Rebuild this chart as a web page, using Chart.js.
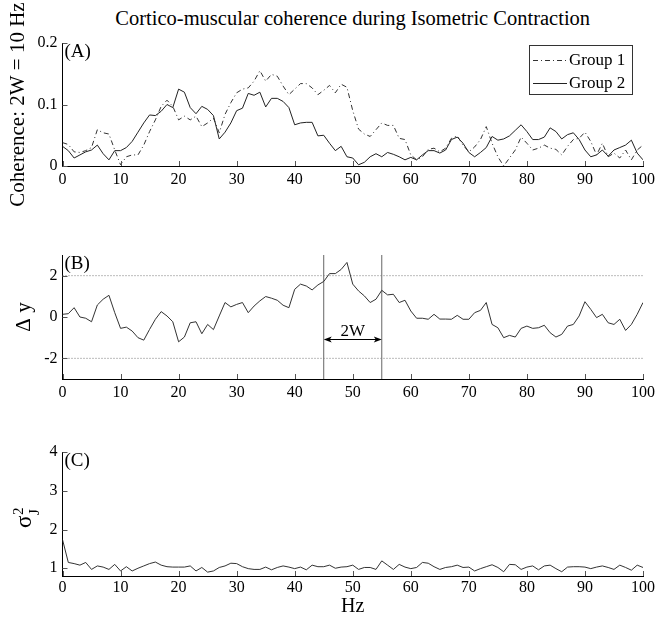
<!DOCTYPE html>
<html>
<head>
<meta charset="utf-8">
<script src="https://cdn.jsdelivr.net/npm/chart.js@4.4.1/dist/chart.umd.min.js"></script>
<style>
    body { margin: 0; background: #fff; }
    #wrap { position: relative; width: 667px; height: 623px; overflow: hidden; }
    #title {
        position: absolute; left: 62.5px; width: 580.5px; top: 6px;
        text-align: center; font: 20.5px/24px 'Liberation Serif', 'Times New Roman', serif; color: #000;
        white-space: nowrap;
    }
    canvas { position: absolute; left: 0; }
</style>
</head>
<body>
<div id="wrap">
    <div id="title">Cortico-muscular coherence during Isometric Contraction</div>
    <canvas id="chart-a" width="667" height="215" style="top:0px;width:667px;height:215px"></canvas>
    <canvas id="chart-b" width="667" height="195" style="top:215px;width:667px;height:195px"></canvas>
    <canvas id="chart-c" width="667" height="213" style="top:410px;width:667px;height:213px"></canvas>
</div>
<script>
// Frequency axis (Hz)
const freqs = [0, 1, 2, 3, 4, 5, 6, 7, 8, 9, 10, 11, 12, 13, 14, 15, 16, 17, 18, 19, 20,
    21, 22, 23, 24, 25, 26, 27, 28, 29, 30, 31, 32, 33, 34, 35, 36, 37, 38, 39, 40,
    41, 42, 43, 44, 45, 46, 47, 48, 49, 50, 51, 52, 53, 54, 55, 56, 57, 58, 59, 60,
    61, 62, 63, 64, 65, 66, 67, 68, 69, 70, 71, 72, 73, 74, 75, 76, 77, 78, 79, 80,
    81, 82, 83, 84, 85, 86, 87, 88, 89, 90, 91, 92, 93, 94, 95, 96, 97, 98, 99, 100];

// (A) coherence, Group 1 (dash-dot)
const group1 = [0.038, 0.035, 0.023, 0.022, 0.025, 0.030, 0.059, 0.054, 0.052, 0.026, 0.002,
    0.015, 0.018, 0.018, 0.034, 0.056, 0.075, 0.097, 0.107, 0.097, 0.075,
    0.081, 0.075, 0.081, 0.064, 0.070, 0.078, 0.054, 0.084, 0.103, 0.119,
    0.125, 0.127, 0.138, 0.155, 0.138, 0.149, 0.146, 0.130, 0.116, 0.125,
    0.134, 0.134, 0.127, 0.116, 0.123, 0.131, 0.119, 0.133, 0.128, 0.090,
    0.060, 0.052, 0.048, 0.059, 0.070, 0.066, 0.066, 0.045, 0.043, 0.018,
    0.010, 0.015, 0.027, 0.029, 0.023, 0.029, 0.045, 0.049, 0.034, 0.023,
    0.031, 0.043, 0.064, 0.037, 0.015, 0.000, 0.013, 0.026, 0.047, 0.037,
    0.026, 0.029, 0.034, 0.029, 0.027, 0.018, 0.032, 0.043, 0.045, 0.055,
    0.040, 0.018, 0.037, 0.015, 0.021, 0.013, 0.026, 0.010, 0.026, 0.034];

// (A) coherence, Group 2 (solid)
const group2 = [0.032, 0.025, 0.013, 0.018, 0.023, 0.026, 0.034, 0.020, 0.010, 0.025, 0.025,
    0.030, 0.040, 0.055, 0.070, 0.083, 0.082, 0.089, 0.100, 0.095, 0.125,
    0.120, 0.095, 0.085, 0.097, 0.092, 0.082, 0.044, 0.055, 0.070, 0.090,
    0.094, 0.118, 0.115, 0.120, 0.096, 0.110, 0.110, 0.105, 0.095, 0.067,
    0.070, 0.071, 0.071, 0.049, 0.050, 0.037, 0.025, 0.032, 0.015, 0.013,
    0.002, 0.006, 0.015, 0.020, 0.015, 0.022, 0.019, 0.015, 0.010, 0.014,
    0.010, 0.018, 0.025, 0.025, 0.021, 0.026, 0.043, 0.047, 0.037, 0.022,
    0.015, 0.022, 0.030, 0.048, 0.042, 0.044, 0.049, 0.058, 0.067, 0.056,
    0.043, 0.043, 0.047, 0.062, 0.056, 0.044, 0.051, 0.054, 0.043, 0.026,
    0.015, 0.018, 0.026, 0.016, 0.026, 0.030, 0.034, 0.042, 0.021, 0.010];

// (B) standardised difference
const deltaY = [0.13, 0.16, 0.45, 0.00, -0.06, -0.23, 0.58, 0.86, 1.05, 0.21, -0.55,
    -0.49, -0.68, -1.00, -1.12, -0.60, -0.11, 0.26, 0.05, -0.23, -1.20,
    -0.97, -0.28, -0.23, -0.81, -0.36, -0.61, 0.05, 0.70, 0.49, 0.61,
    0.70, 0.21, 0.53, 0.78, 0.99, 0.91, 0.81, 0.57, 0.45, 1.34,
    1.59, 1.50, 1.31, 1.55, 1.72, 2.10, 2.10, 2.30, 2.64, 1.59,
    1.26, 1.02, 0.70, 0.86, 1.29, 1.07, 1.10, 0.70, 0.81, 0.29,
    -0.06, -0.06, -0.11, 0.13, -0.10, -0.10, -0.11, 0.08, -0.11, -0.11,
    0.21, 0.32, 0.70, -0.36, -0.52, -1.00, -0.89, -0.97, -0.55, -0.44,
    -0.55, -0.52, -0.40, -0.76, -0.97, -0.84, -0.44, -0.36, 0.05, 0.74,
    0.37, -0.03, 0.13, -0.28, -0.36, -0.11, -0.65, -0.36, 0.13, 0.70];

// (C) jackknife variance
const sigmaJ = [1.74, 1.15, 1.12, 1.08, 1.15, 0.97, 1.06, 1.03, 0.97, 1.10, 0.93,
    1.04, 0.93, 1.00, 1.06, 1.12, 1.16, 1.08, 1.04, 1.03, 1.03,
    1.03, 1.06, 0.93, 1.02, 0.90, 0.93, 1.02, 1.06, 1.13, 1.12,
    1.04, 0.99, 0.97, 0.97, 1.03, 0.96, 1.02, 1.06, 1.03, 0.99,
    1.03, 0.96, 1.08, 1.04, 1.04, 1.08, 1.00, 1.03, 1.04, 1.08,
    0.97, 1.02, 1.02, 0.97, 1.19, 1.08, 0.97, 1.10, 1.03, 0.99,
    1.02, 1.15, 1.13, 1.04, 0.97, 1.02, 1.04, 1.08, 1.02, 1.03,
    0.93, 0.99, 1.04, 1.09, 1.02, 0.91, 1.10, 1.09, 0.97, 1.03,
    1.06, 0.96, 1.06, 1.08, 0.99, 0.91, 1.03, 1.04, 1.04, 1.03,
    0.99, 1.03, 1.06, 1.02, 0.97, 1.08, 1.02, 0.95, 1.08, 1.02];

// Ticks and reference values
const xTicks = [0, 10, 20, 30, 40, 50, 60, 70, 80, 90, 100];
const ticksA = [0, 0.1, 0.2];
const ticksB = [-2, 0, 2];
const ticksC = [1, 2, 3, 4];
const thresholds = [2, -2];
const band = [45, 55];

// Annotation positions (value units)
const arrowLevel = -1.08;
const bandTextLevel = -0.68;

const serif = "'Liberation Serif', 'Times New Roman', serif";
const toPoints = (values) => values.map((v, i) => ({ x: freqs[i], y: v }));

const xAxis = (height, tickPad, title) => ({
    type: 'linear',
    min: 0,
    max: 100,
    afterBuildTicks: (s) => { s.ticks = xTicks.map(v => ({ value: v })); },
    afterFit: (s) => { s.height = height; },
    grid: { display: false, drawTicks: false },
    border: { display: true, color: '#000', width: 1 },
    ticks: { autoSkip: false, maxRotation: 0, padding: tickPad, color: '#000', font: { family: serif, size: 16 } },
    title: title
        ? { display: true, text: title, color: '#000', font: { family: serif, size: 20 }, padding: { top: 0, bottom: 4 } }
        : { display: false }
});

const yAxis = (min, max, ticks, title, titlePad) => ({
    type: 'linear',
    min: min,
    max: max,
    afterBuildTicks: (s) => { s.ticks = ticks.map(v => ({ value: v })); },
    afterFit: (s) => { s.width = 62.5; },
    grid: { display: false, drawTicks: false },
    border: { display: true, color: '#000', width: 1 },
    ticks: { padding: 5, color: '#000', font: { family: serif, size: 16 }, callback: (v) => String(v) },
    title: title
        ? { display: true, text: title, color: '#000', font: { family: serif, size: 21 }, padding: { top: titlePad, bottom: 0 } }
        : { display: false }
});

// MATLAB-like ticks pointing into the axes, plus the panel tag
const innerTicks = {
    id: 'innerTicks',
    afterDraw(chart, args, opts) {
        const { ctx, chartArea, scales: { x, y } } = chart;
        ctx.save();
        ctx.strokeStyle = '#555';
        ctx.lineWidth = 1;
        ctx.beginPath();
        x.ticks.forEach(t => {
            const px = Math.round(x.getPixelForValue(t.value)) + 0.5;
            ctx.moveTo(px, chartArea.bottom);
            ctx.lineTo(px, chartArea.bottom - 5);
        });
        y.ticks.forEach(t => {
            const py = Math.round(y.getPixelForValue(t.value)) + 0.5;
            ctx.moveTo(chartArea.left, py);
            ctx.lineTo(chartArea.left + 5, py);
        });
        ctx.stroke();
        if (opts.tag) {
            ctx.fillStyle = '#000';
            ctx.font = `19px ${serif}`;
            ctx.textBaseline = 'middle';
            ctx.textAlign = 'left';
            ctx.fillText(opts.tag, chartArea.left + 2, chartArea.top + 9.5);
        }
        ctx.restore();
    }
};

// Boxed legend in the top right corner of panel A
const boxLegend = {
    id: 'boxLegend',
    afterDraw(chart) {
        const { ctx, chartArea } = chart;
        const right = chartArea.right - 11;
        const left = right - 103;
        const top = chartArea.top + 2;
        ctx.save();
        ctx.strokeStyle = '#333';
        ctx.lineWidth = 1;
        ctx.strokeRect(Math.round(left) + 0.5, Math.round(top) + 0.5, 103, 49);
        ctx.font = `17px ${serif}`;
        ctx.textBaseline = 'middle';
        ctx.fillStyle = '#000';
        chart.data.datasets.forEach((ds, i) => {
            const rowY = Math.round(top + 14.5 + i * 23) + 0.5;
            ctx.setLineDash(ds.borderDash || []);
            ctx.strokeStyle = ds.borderColor;
            ctx.beginPath();
            ctx.moveTo(left + 4, rowY);
            ctx.lineTo(left + 38, rowY);
            ctx.stroke();
            ctx.fillText(ds.label, left + 40, rowY);
        });
        ctx.restore();
    }
};

// Double arrow marking the 2W band in panel B
const bandArrow = {
    id: 'bandArrow',
    afterDatasetsDraw(chart) {
        const { ctx, scales: { x, y } } = chart;
        const x0 = x.getPixelForValue(band[0]);
        const x1 = x.getPixelForValue(band[1]);
        const py = Math.round(y.getPixelForValue(arrowLevel)) + 0.5;
        ctx.save();
        ctx.strokeStyle = '#000';
        ctx.fillStyle = '#000';
        ctx.lineWidth = 1;
        ctx.beginPath();
        ctx.moveTo(x0 + 2, py);
        ctx.lineTo(x1 - 2, py);
        ctx.stroke();
        ctx.beginPath();
        ctx.moveTo(x0, py); ctx.lineTo(x0 + 8, py - 3); ctx.lineTo(x0 + 6, py); ctx.lineTo(x0 + 8, py + 3); ctx.closePath();
        ctx.moveTo(x1, py); ctx.lineTo(x1 - 8, py - 3); ctx.lineTo(x1 - 6, py); ctx.lineTo(x1 - 8, py + 3); ctx.closePath();
        ctx.fill();
        ctx.font = `17px ${serif}`;
        ctx.textAlign = 'center';
        ctx.textBaseline = 'middle';
        ctx.fillText('2W', x.getPixelForValue((band[0] + band[1]) / 2), y.getPixelForValue(bandTextLevel));
        ctx.restore();
    }
};

// sigma_J^2 label of panel C
const sigmaLabel = {
    id: 'sigmaLabel',
    afterDraw(chart) {
        const { ctx, chartArea } = chart;
        const cy = (chartArea.top + chartArea.bottom) / 2;
        ctx.save();
        ctx.translate(31, cy + 2);
        ctx.rotate(-Math.PI / 2);
        ctx.fillStyle = '#000';
        ctx.textBaseline = 'alphabetic';
        ctx.textAlign = 'left';
        ctx.font = `23px ${serif}`;
        ctx.fillText('σ', -12, 0);
        ctx.font = `15px ${serif}`;
        ctx.fillText('2', 1, -8);
        ctx.fillText('J', 1, 8);
        ctx.restore();
    }
};

const lineStyle = { borderWidth: 1, pointRadius: 0, fill: false, tension: 0 };

new Chart(document.getElementById('chart-a'), {
    type: 'line',
    data: {
        datasets: [
            { label: 'Group 1', data: toPoints(group1), borderColor: '#333', borderDash: [5, 3, 1, 3], ...lineStyle },
            { label: 'Group 2', data: toPoints(group2), borderColor: '#222', ...lineStyle }
        ]
    },
    options: {
        responsive: false,
        animation: false,
        layout: { padding: { top: 43, right: 24, left: 0, bottom: 0 } },
        scales: {
            x: xAxis(49, 4, null),
            y: yAxis(0, 0.2, ticksA, 'Coherence: 2W = 10 Hz', 6)
        },
        plugins: {
            legend: { display: false },
            tooltip: { enabled: false },
            innerTicks: { tag: '(A)' }
        }
    },
    plugins: [innerTicks, boxLegend]
});

new Chart(document.getElementById('chart-b'), {
    type: 'line',
    data: {
        datasets: [
            { label: 'Δy', data: toPoints(deltaY), borderColor: '#333', ...lineStyle },
            ...thresholds.map(t => ({ data: [{ x: 0, y: t }, { x: 100, y: t }], borderColor: '#777', borderDash: [1, 2], ...lineStyle })),
            ...band.map(b => ({ data: [{ x: b, y: -3 }, { x: b, y: 3 }], borderColor: '#666', ...lineStyle }))
        ]
    },
    options: {
        responsive: false,
        animation: false,
        layout: { padding: { top: 40, right: 24, left: 0, bottom: 0 } },
        scales: {
            x: xAxis(31, 4, null),
            y: yAxis(-3, 3, ticksB, 'Δ y', 12)
        },
        plugins: {
            legend: { display: false },
            tooltip: { enabled: false },
            innerTicks: { tag: '(B)' }
        }
    },
    plugins: [innerTicks, bandArrow]
});

new Chart(document.getElementById('chart-c'), {
    type: 'line',
    data: {
        datasets: [
            { label: 'σJ²', data: toPoints(sigmaJ), borderColor: '#333', ...lineStyle }
        ]
    },
    options: {
        responsive: false,
        animation: false,
        layout: { padding: { top: 42, right: 24, left: 0, bottom: 0 } },
        scales: {
            x: xAxis(47, 2, 'Hz'),
            y: yAxis(0.8, 4, ticksC, null, 0)
        },
        plugins: {
            legend: { display: false },
            tooltip: { enabled: false },
            innerTicks: { tag: '(C)' }
        }
    },
    plugins: [innerTicks, sigmaLabel]
});
</script>
</body>
</html>
